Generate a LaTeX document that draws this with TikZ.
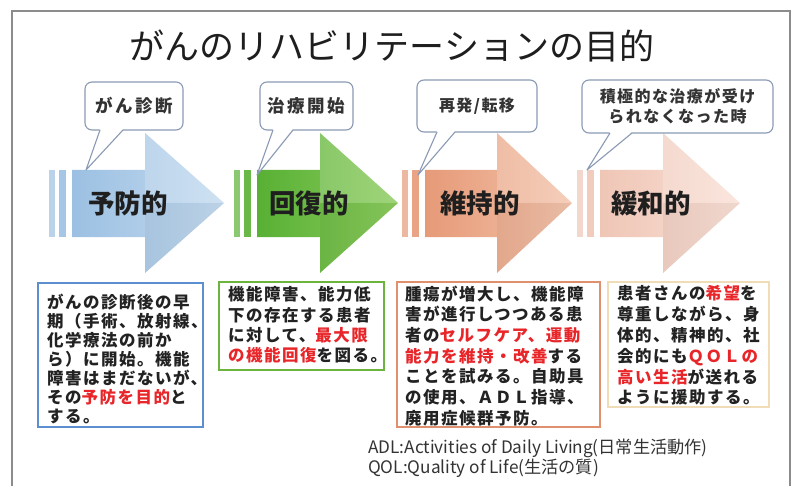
\documentclass[tikz,border=0pt]{standalone}
\usepackage{fontspec}
\setmainfont{Noto Sans CJK JP}
\newfontfamily\jp{Noto Sans CJK JP}
\newfontfamily\jpsp{Noto Sans CJK JP}[LetterSpace=9]
\newfontfamily\jpbubA{Noto Sans CJK JP}[LetterSpace=15]
\newfontfamily\jpbubB{Noto Sans CJK JP}[LetterSpace=9]
\usetikzlibrary{calc}
\definecolor{framec}{HTML}{8C8C8C}
\definecolor{titlec}{HTML}{1E1E1E}
\definecolor{bluebox}{HTML}{5B8FD0}
\definecolor{greenbox}{HTML}{6DB33F}
\definecolor{orangebox}{HTML}{E0906C}
\definecolor{creambox}{HTML}{F0DDB8}
\definecolor{redtxt}{HTML}{E8262A}
\definecolor{txt}{HTML}{222222}
\definecolor{bubline}{HTML}{8A9AB5}
\definecolor{bubtxt}{HTML}{333333}
\definecolor{footc}{HTML}{333333}
\definecolor{blueD}{HTML}{9CC0E2}
\definecolor{blueL}{HTML}{C4DBF0}
\definecolor{greenD}{HTML}{58B034}
\definecolor{greenL}{HTML}{8CCC5E}
\definecolor{orangeD}{HTML}{E69A78}
\definecolor{orangeL}{HTML}{F3C4AC}
\definecolor{pinkD}{HTML}{EFC6B6}
\definecolor{pinkL}{HTML}{F9E0D6}
\newcommand{\rd}[1]{\textcolor{redtxt}{#1}}
\newcommand{\flowarrow}[6]{%
  \fill[#5!70!white] ({#2-23},170) rectangle ({#2-17},237);
  \fill[#5!90!white] ({#2-13},170) rectangle ({#2-6},237);
  \path[left color=#5, right color=#6] (#2,170) -- (#3,170) -- (#3,133) -- (#4,203) -- (#3,273) -- (#3,237) -- (#2,237) -- cycle;
  \fill[white, opacity=0.18] (#3,133) -- (#4,203) -- (#3,203) -- cycle;
  \fill[black, opacity=0.04] (#3,203) -- (#4,203) -- (#3,273) -- cycle;
  \coordinate (#1) at ({(#2+#4)/2},203);
}
\newcommand{\pointer}[4]{%
  \fill[white] ($(#1.south west)+(#2,-1)$) -- (#4) -- ($(#1.south west)+(#3,-1)$) -- cycle;
  \draw[bubline, line width=1.1pt, line join=round] ($(#1.south west)+(#2,0)$) -- (#4) -- ($(#1.south west)+(#3,0)$);
}
\begin{document}
\begin{tikzpicture}[x=1pt,y=-1pt,
  bubble/.style={draw=bubline, line width=1.1pt, fill=white, rounded corners=7pt, inner sep=0pt, outer sep=0pt, text=bubtxt, align=center},
  bubA/.style={bubble, font=\jpbubA\bfseries\fontsize{17.5}{20}\selectfont},
  bubB/.style={bubble, font=\jpbubB\bfseries\fontsize{16}{20}\selectfont},
  textbox/.style={anchor=north west, inner sep=0pt, outer sep=0pt},
  boxtext/.style={anchor=north west, inner sep=0pt, align=left, text=txt},
  arrowlabel/.style={font=\jp\bfseries\fontsize{26.5}{30}\selectfont, text=black!88}]
\useasboundingbox (0,0) rectangle (794,486);
\fill[white] (0,0) rectangle (794,486);
\draw[framec, line width=1.6pt] (12,490) -- (12,11) -- (790,11) -- (790,490);

\node[font=\jp\fontsize{35}{40}\selectfont, text=titlec] (title) at (392,46) {がんのリハビリテーションの目的};

% arrows
\flowarrow{a1}{72}{145}{224}{blueD}{blueL}
\flowarrow{a2}{257}{320}{398}{greenD}{greenL}
\flowarrow{a3}{425}{497}{572}{orangeD}{orangeL}
\flowarrow{a4}{600}{663}{740}{pinkD}{pinkL}
\node[arrowlabel] (l1) at (128,203) {予防的};
\node[arrowlabel] (l2) at (309,203) {回復的};
\node[arrowlabel] (l3) at (480,203) {維持的};
\node[arrowlabel] (l4) at (651,203) {緩和的};

% bubbles
\node[bubA, minimum width=98pt, minimum height=48pt] (b1) at (134,106) {がん診断};
\node[bubA, minimum width=93pt, minimum height=48pt] (b2) at (306.5,106) {治療開始};
\node[bubB, minimum width=120pt, minimum height=52pt] (b3) at (477,106) {再発/転移};
\node[bubB, minimum width=191pt, minimum height=53pt] (b4) at (677.5,106.5) {積極的な治療が受け\\られなくなった時};
\coordinate (p1) at (86,170);
\coordinate (p2) at (257,175);
\coordinate (p3) at (418,175);
\coordinate (p4) at (587,170);
\pointer{b1}{15}{38}{p1}
\pointer{b2}{13}{33}{p2}
\pointer{b3}{20}{38}{p3}
\pointer{b4}{28}{50}{p4}

% boxes
\node[textbox, draw=bluebox, line width=1.8pt, minimum width=165pt, minimum height=144pt] (box1) at (38,283) {};
\node[textbox, draw=greenbox, line width=1.8pt, minimum width=165pt, minimum height=88pt] (box2) at (219,282) {};
\node[textbox, draw=orangebox, line width=1.8pt, minimum width=203pt, minimum height=145pt] (box3) at (397,282) {};
\node[textbox, draw=creambox, line width=1.2pt, minimum width=161pt, minimum height=125pt] (box4) at (608,282) {};

\node[boxtext, font=\jpsp\bfseries\fontsize{16.5}{19}\selectfont] (t1) at (47,293.5) {がんの診断後の早\\期（手術、放射線、\\化学療法の前か\\ら）に開始。機能\\障害はまだないが、\\その\rd{予防を目的}と\\する。};
\node[boxtext, font=\jpsp\bfseries\fontsize{16.5}{20.3}\selectfont] (t2) at (228,286.5) {機能障害、能力低\\下の存在する患者\\に対して、\rd{最大限}\\\rd{の機能回復}を図る。};
\node[boxtext, font=\jpsp\bfseries\fontsize{16.5}{20.7}\selectfont] (t3) at (405,285.5) {腫瘍が増大し、機能障\\害が進行しつつある患\\者の\rd{セルフケア、運動}\\\rd{能力を維持・改善}する\\ことを試みる。自助具\\の使用、ＡＤＬ指導、\\廃用症候群予防。};
\node[boxtext, font=\jpsp\bfseries\fontsize{16.5}{20.8}\selectfont] (t4) at (617,285.5) {患者さんの\rd{希望}を\\尊重しながら、身\\体的、精神的、社\\会的にも\rd{ＱＯＬの}\\\rd{高い生活}が送れる\\ように援助する。};

\node[anchor=west, inner sep=0pt, align=left, text=footc, font=\jp\fontsize{17.2}{17.5}\selectfont] (foot) at (368,458.5) {ADL:Activities of Daily Living(日常生活動作)\\QOL:Quality of Life(生活の質)};
\end{tikzpicture}
\end{document}
